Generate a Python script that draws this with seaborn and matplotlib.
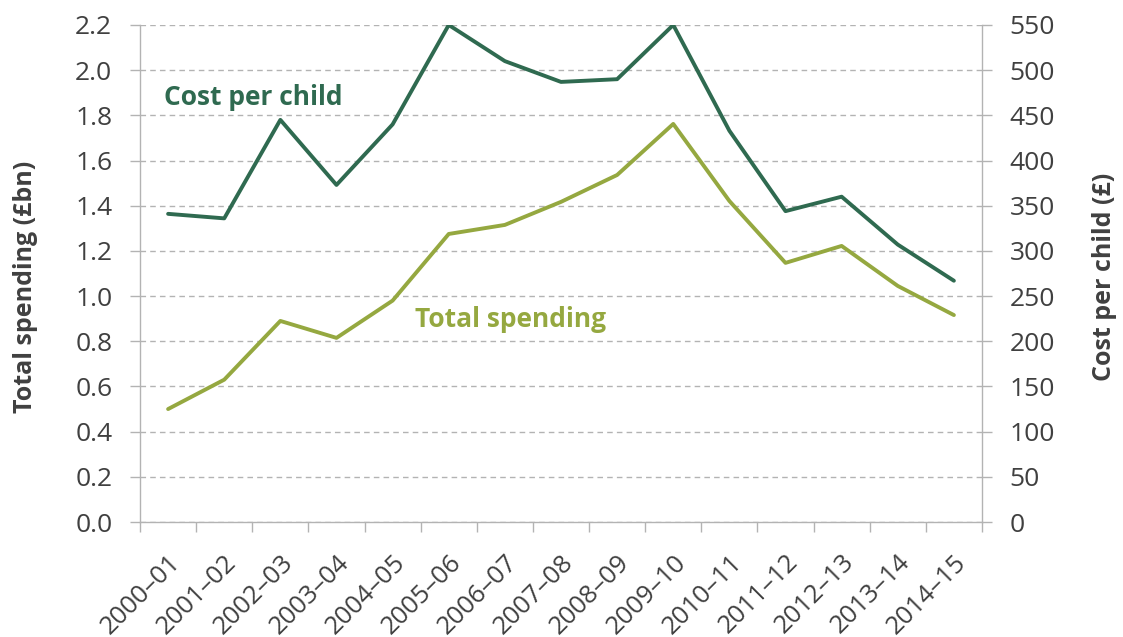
import numpy as np
import pandas as pd
import seaborn as sns
import matplotlib.pyplot as plt

years = ["2000–01", "2001–02", "2002–03", "2003–04", "2004–05", "2005–06",
         "2006–07", "2007–08", "2008–09", "2009–10", "2010–11", "2011–12",
         "2012–13", "2013–14", "2014–15"]
total_spending = [0.50, 0.63, 0.89, 0.815, 0.98, 1.275, 1.315, 1.417, 1.536,
                  1.762, 1.421, 1.147, 1.222, 1.045, 0.916]
cost_per_child = [341, 336, 445, 373, 440, 550, 510, 487, 490, 550, 433, 344,
                  360, 307, 267]

dark_green = "#2f6a50"
light_green = "#95a840"
grey_text = "#404040"
grid_grey = "#b3b3b3"

sns.set_theme(style="white")
plt.rcParams["font.family"] = ["Open Sans", "DejaVu Sans"]

df = pd.DataFrame({"pos": np.arange(len(years)),
                   "total": total_spending,
                   "cost": cost_per_child})

fig = plt.figure(figsize=(11.23, 6.37), dpi=100)
ax = fig.add_axes([0.1247, 0.1805, 0.7497, 0.7803])
ax2 = ax.twinx()

sns.lineplot(data=df, x="pos", y="total", ax=ax, color=light_green, linewidth=2.8)
sns.lineplot(data=df, x="pos", y="cost", ax=ax2, color=dark_green, linewidth=2.8)

ax.set_xlim(-0.5, len(years) - 0.5)
ax.set_ylim(0, 2.2)
ax2.set_ylim(0, 550)
ax.set_yticks(np.arange(0, 2.21, 0.2))
ax.set_yticklabels([f"{v:.1f}" for v in np.arange(0, 2.21, 0.2)])
ax2.set_yticks(np.arange(0, 551, 50))

# category boundaries get the tick marks, labels sit at the centres
ax.set_xticks(np.arange(-0.5, len(years)))
ax.set_xticklabels([])
ax.set_xticks(np.arange(len(years)), minor=True)
ax.set_xticklabels(years, minor=True, rotation=45, ha="right",
                   rotation_mode="anchor")
ax.tick_params(axis="x", which="major", length=7, width=1, color=grid_grey,
               direction="out", bottom=True)
ax.tick_params(axis="x", which="minor", length=0, pad=20, labelsize=18.5,
               labelcolor=grey_text)

ax.yaxis.grid(True, linestyle=(0, (4, 3)), color=grid_grey, linewidth=1)
ax.set_axisbelow(True)
ax.tick_params(axis="y", length=7, width=1, color=grid_grey, direction="out",
               left=True, labelsize=19, labelcolor=grey_text, pad=13)
ax2.tick_params(axis="y", length=7, width=1, color=grid_grey, direction="out",
                right=True, labelsize=19, labelcolor=grey_text, pad=13)

for a in (ax, ax2):
    a.spines["top"].set_visible(False)
    for s in ("left", "right", "bottom"):
        a.spines[s].set_color(grid_grey)
        a.spines[s].set_linewidth(1)
ax.spines["right"].set_visible(False)
ax2.spines["left"].set_visible(False)
ax2.spines["bottom"].set_visible(False)

ax.set_xlabel("")
ax.set_ylabel("Total spending (£bn)", fontsize=18, fontweight="bold",
              color=grey_text)
ax2.set_ylabel("Cost per child (£)", fontsize=18, fontweight="bold",
               color=grey_text)
ax.yaxis.set_label_coords(-0.121, 0.473)
ax2.yaxis.set_label_coords(1.131, 0.493)

ax.text(-0.07, 1.88, "Cost per child", fontsize=19, fontweight="bold",
        color=dark_green, va="center", ha="left")
ax.text(4.4, 0.895, "Total spending", fontsize=19, fontweight="bold",
        color=light_green, va="center", ha="left")

fig.savefig("out.png", dpi=100)
